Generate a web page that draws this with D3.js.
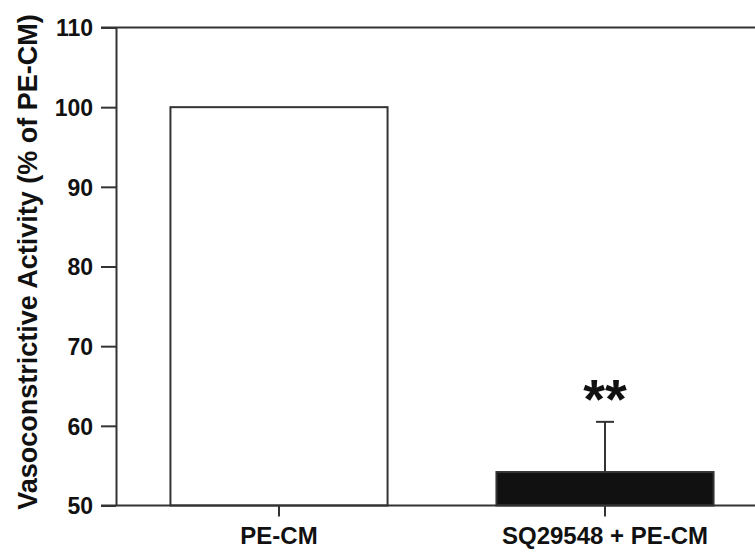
<!DOCTYPE html>
<html>
<head>
<meta charset="utf-8">
<script src="https://cdn.jsdelivr.net/npm/d3@7"></script>
<style>
  body { margin: 0; background: #fff; }
  text { font-family: "Liberation Sans", Arial, sans-serif; font-weight: bold; fill: #111; }
</style>
</head>
<body>
<svg id="chart" width="755" height="553"></svg>
<script>
const categories = ["PE-CM", "SQ29548 + PE-CM"];
const values = [100, 54.2];
const errors = [0, 6.3];
const fills = ["#fff", "#111"];
const yTicks = [50, 60, 70, 80, 90, 100, 110];
const stars = ["", "**"];

const svg = d3.select("#chart");
const ink = "#333";

const x = d3.scaleBand()
    .domain(categories)
    .range([116, 768])
    .paddingInner(0.334)
    .paddingOuter(0.167);

const y = d3.scaleLinear()
    .domain([50, 110])
    .range([505.5, 27.5]);

// top frame line, starts at the tick end like the reference
svg.append("line")
    .attr("x1", 101).attr("x2", 755)
    .attr("y1", y(110)).attr("y2", y(110))
    .attr("stroke", ink).attr("stroke-width", 2);

// bars
svg.selectAll("rect.bar")
    .data(categories)
    .join("rect")
    .attr("class", "bar")
    .attr("x", d => x(d))
    .attr("width", x.bandwidth())
    .attr("y", (d, i) => y(values[i]))
    .attr("height", (d, i) => y(50) - y(values[i]))
    .attr("fill", (d, i) => fills[i])
    .attr("stroke", ink)
    .attr("stroke-width", 2);

// error bars (upper only)
categories.forEach((c, i) => {
    if (!errors[i]) return;
    const cx = x(c) + x.bandwidth() / 2;
    svg.append("line")
        .attr("x1", cx).attr("x2", cx)
        .attr("y1", y(values[i])).attr("y2", y(values[i] + errors[i]))
        .attr("stroke", ink).attr("stroke-width", 2);
    svg.append("line")
        .attr("x1", cx - 9).attr("x2", cx + 9)
        .attr("y1", y(values[i] + errors[i])).attr("y2", y(values[i] + errors[i]))
        .attr("stroke", ink).attr("stroke-width", 2);
});

// significance marks
svg.selectAll("text.star")
    .data(categories)
    .join("text")
    .attr("class", "star")
    .attr("x", d => x(d) + x.bandwidth() / 2)
    .attr("y", (d, i) => y(values[i] + errors[i]) - 4)
    .attr("text-anchor", "middle")
    .style("font-size", "56px")
    .text((d, i) => stars[i]);

// y axis
const yAxis = svg.append("g")
    .attr("transform", "translate(116,0)")
    .call(d3.axisLeft(y).tickValues(yTicks).tickSize(15).tickPadding(8).tickSizeOuter(0));
yAxis.select(".domain").attr("stroke", ink).attr("stroke-width", 2);
yAxis.selectAll(".tick line").attr("stroke", ink).attr("stroke-width", 2);
yAxis.selectAll(".tick text").attr("dy", "0.36em")
    .style("font-size", "23px").attr("fill", null);

// x axis
const xAxis = svg.append("g")
    .attr("transform", `translate(0,${y(50)})`)
    .call(d3.axisBottom(x).tickSize(11).tickPadding(10).tickSizeOuter(0));
xAxis.select(".domain").attr("d", "M101,0H755").attr("stroke", ink).attr("stroke-width", 2);
xAxis.selectAll(".tick line").attr("stroke", ink).attr("stroke-width", 2);
xAxis.selectAll(".tick text")
    .style("font-size", "24px").attr("fill", null);

// y axis title
svg.append("text")
    .attr("transform", "translate(37,262) rotate(-90)")
    .attr("text-anchor", "middle")
    .style("font-size", "27px")
    .text("Vasoconstrictive Activity (% of PE-CM)");
</script>
</body>
</html>
